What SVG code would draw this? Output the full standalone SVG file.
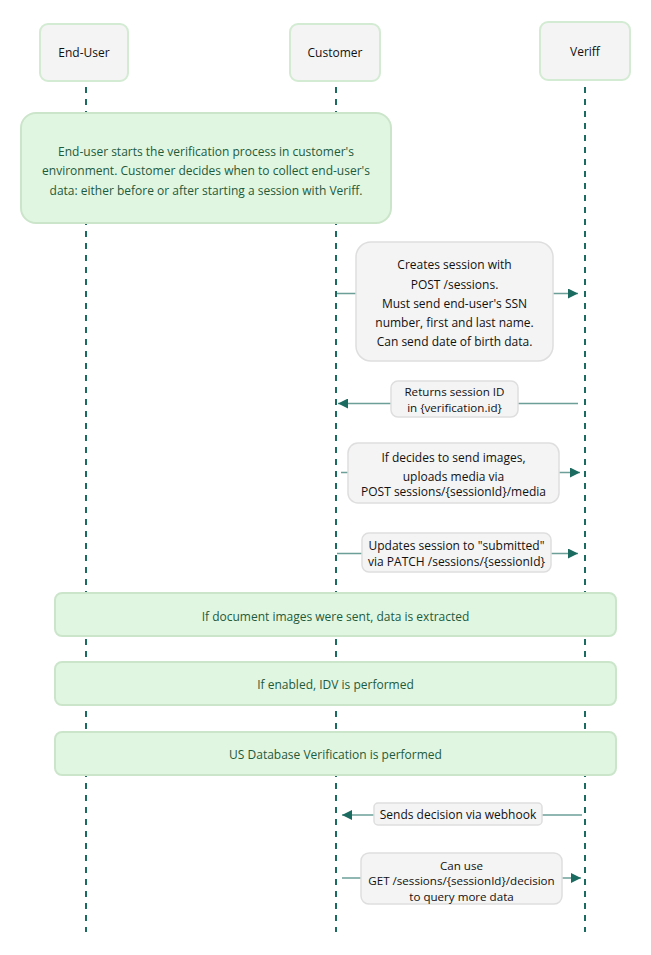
<svg xmlns="http://www.w3.org/2000/svg" width="651" height="955" viewBox="0 0 651 955">
<defs>
<style>
.actor{fill:#f4f4f4;stroke:#d3ebd3;stroke-width:2}
.life{stroke:#1b6b60;stroke-width:2;stroke-dasharray:6 6;fill:none}
.note{fill:#e1f6e1;stroke:#cbe5cb;stroke-width:2}
.msg{fill:#f4f4f4;stroke:#dedede;stroke-width:1.5}
.line{stroke:#1b6b60;stroke-width:1.5;stroke-opacity:0.65;fill:none}
.t{font-family:"Open Sans","DejaVu Sans",sans-serif;font-size:12px;text-anchor:middle;dominant-baseline:central;fill:#111}
.ts{font-family:"Open Sans","DejaVu Sans",sans-serif;font-size:11.6px;text-anchor:middle;dominant-baseline:central;fill:#111}
.nt{font-family:"Open Sans","DejaVu Sans",sans-serif;font-size:12px;text-anchor:middle;dominant-baseline:central;fill:#1e5a3c}
</style>
<marker id="ah" viewBox="0 0 10 10" refX="10" refY="5" markerWidth="10" markerHeight="10" markerUnits="userSpaceOnUse" orient="auto">
<path d="M0,0 L10,5 L0,10 z" fill="#1b6b60"/>
</marker>
</defs>
<rect width="651" height="955" fill="#ffffff"/>
<g id="lifelines">
<line class="life" x1="86" y1="87" x2="86" y2="932"/>
<line class="life" x1="336" y1="87" x2="336" y2="932"/>
<line class="life" x1="585" y1="87" x2="585" y2="932"/>
</g>
<g id="actor-enduser"><rect class="actor" x="40" y="24" width="88" height="57" rx="8"/><text class="t" x="84" y="52">End-User</text></g>
<g id="actor-customer"><rect class="actor" x="290" y="24" width="90" height="57" rx="8"/><text class="t" x="335" y="52">Customer</text></g>
<g id="actor-veriff"><rect class="actor" x="540" y="22" width="90" height="58" rx="8"/><text class="t" x="585" y="51">Veriff</text></g>
<g id="connectors">
<line class="line" x1="337" y1="293.5" x2="578" y2="293.5" marker-end="url(#ah)"/>
<line class="line" x1="578" y1="403.5" x2="338" y2="403.5" marker-end="url(#ah)"/>
<line class="line" x1="341" y1="472.5" x2="580" y2="472.5" marker-end="url(#ah)"/>
<line class="line" x1="337" y1="553.5" x2="578" y2="553.5" marker-end="url(#ah)"/>
<line class="line" x1="582" y1="815" x2="342" y2="815" marker-end="url(#ah)"/>
<line class="line" x1="342" y1="878" x2="581" y2="878" marker-end="url(#ah)"/>
</g>
<g id="note-start"><rect class="note" x="21" y="113" width="370" height="110" rx="15"/>
<text class="nt" x="206" y="151">End-user starts the verification process in customer's</text>
<text class="nt" x="206" y="170.5">environment. Customer decides when to collect end-user's</text>
<text class="nt" x="206" y="190">data: either before or after starting a session with Veriff.</text></g>
<g id="msg-create"><rect class="msg" x="356" y="242" width="197" height="119" rx="15"/>
<text class="t" x="454.5" y="264.5">Creates session with</text>
<text class="t" x="454.5" y="284">POST /sessions.</text>
<text class="t" x="454.5" y="303.5">Must send end-user's SSN</text>
<text class="t" x="454.5" y="322.5">number, first and last name.</text>
<text class="t" x="454.5" y="341.5">Can send date of birth data.</text></g>
<g id="msg-return"><rect class="msg" x="391" y="381" width="127" height="36" rx="7"/>
<text class="ts" x="454.5" y="391.5">Returns session ID</text>
<text class="ts" x="454.5" y="407">in {verification.id}</text></g>
<g id="msg-upload"><rect class="msg" x="348" y="443" width="211" height="60" rx="10"/>
<text class="t" x="453.5" y="457">If decides to send images,</text>
<text class="t" x="453.5" y="476">uploads media via</text>
<text class="t" x="453.5" y="491.5">POST sessions/{sessionId}/media</text></g>
<g id="msg-submit"><rect class="msg" x="362" y="533" width="189" height="39" rx="7"/>
<text class="t" x="456.5" y="545">Updates session to "submitted"</text>
<text class="t" x="456.5" y="561">via PATCH /sessions/{sessionId}</text></g>
<g id="note-extract"><rect class="note" x="55" y="593" width="561" height="43" rx="7"/>
<text class="nt" x="335.5" y="616.5">If document images were sent, data is extracted</text></g>
<g id="note-idv"><rect class="note" x="55" y="662" width="561" height="43" rx="7"/>
<text class="nt" x="335.5" y="684.5">If enabled, IDV is performed</text></g>
<g id="note-db"><rect class="note" x="55" y="732" width="561" height="43" rx="7"/>
<text class="nt" x="335.5" y="754.5">US Database Verification is performed</text></g>
<g id="msg-webhook"><rect class="msg" x="374" y="803" width="168" height="22" rx="4"/>
<text class="t" x="458" y="814.5">Sends decision via webhook</text></g>
<g id="msg-get"><rect class="msg" x="361" y="853" width="201" height="51" rx="8"/>
<text class="ts" x="461.5" y="865">Can use</text>
<text class="ts" x="461.5" y="880.5">GET /sessions/{sessionId}/decision</text>
<text class="ts" x="461.5" y="896">to query more data</text></g>
</svg>
